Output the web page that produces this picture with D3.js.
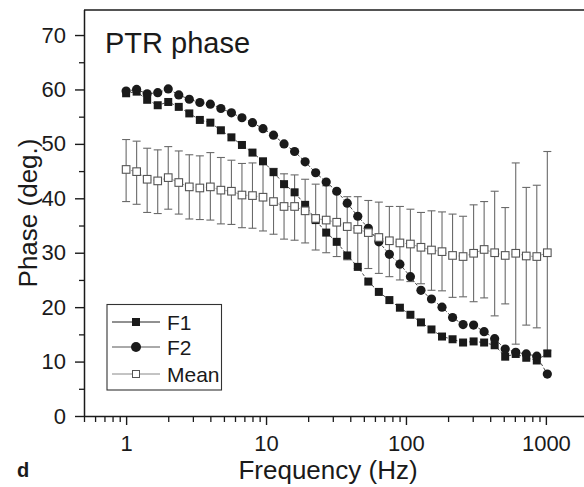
<!DOCTYPE html>
<html>
<head>
<meta charset="utf-8">
<script src="https://cdn.jsdelivr.net/npm/d3@7/dist/d3.min.js"></script>
<style>
  html, body { margin: 0; padding: 0; background: #fff; }
  svg { display: block; font-family: "Liberation Sans", Arial, Helvetica, sans-serif; }
</style>
</head>
<body>
<svg id="chart" width="584" height="487"></svg>
<script>
// Frequencies (Hz), quarter-octave steps
const freqs = [1, 1.189, 1.414, 1.682, 2, 2.378, 2.828, 3.364, 4, 4.757, 5.657, 6.727, 8, 9.514,
  11.31, 13.45, 16, 19.03, 22.63, 26.91, 32, 38.05, 45.25, 53.82, 64, 76.11, 90.51, 107.6,
  128, 152.2, 181.0, 215.3, 256, 304.4, 362.0, 430.5, 512, 608.9, 724.1, 861.1, 1024];

const f1 = [59.3, 59.6, 58.1, 57.1, 57.7, 56.8, 55.6, 54.4, 53.9, 52.5, 51.2, 49.8, 48.4, 46.8,
  44.8, 42.6, 41.1, 38.8, 36.0, 33.7, 32.0, 29.5, 27.4, 24.7, 22.8, 21.3, 19.9, 18.6,
  17.2, 15.9, 14.6, 14.1, 13.5, 13.7, 13.5, 13.0, 10.9, 11.4, 10.7, 10.2, 11.5];

const f2 = [59.7, 60.0, 59.2, 59.4, 60.1, 59.0, 58.2, 57.6, 57.3, 56.5, 55.7, 54.8, 53.9, 52.8,
  51.6, 50.0, 48.6, 46.7, 44.7, 43.0, 41.3, 39.1, 36.7, 34.5, 32.0, 29.7, 27.9, 25.6,
  23.1, 21.5, 20.0, 18.1, 16.8, 16.7, 15.5, 14.2, 12.3, 11.7, 11.4, 11.0, 7.7];

const meanV = [45.3, 44.9, 43.5, 43.2, 43.8, 42.9, 42.1, 41.9, 42.1, 41.5, 41.3, 40.6, 40.5, 40.2,
  39.4, 38.5, 38.5, 37.7, 36.3, 36.0, 35.6, 34.8, 34.3, 33.7, 32.8, 32.2, 31.8, 31.6,
  31.0, 30.5, 30.2, 29.5, 29.3, 29.9, 30.6, 30.0, 29.5, 29.9, 29.4, 29.3, 30.0];

const meanUpper = [50.8, 50.5, 49.2, 48.9, 49.5, 48.7, 48.0, 47.8, 48.4, 47.5, 47.0, 46.4, 46.5, 46.4,
  45.5, 44.5, 44.3, 43.5, 42.6, 42.3, 40.9, 40.3, 40.3, 39.6, 39.3, 38.5, 38.5, 38.0,
  37.4, 37.7, 37.5, 37.1, 36.7, 38.8, 39.4, 41.3, 38.3, 46.5, 42.0, 42.4, 48.6];

const meanLower = [39.4, 38.9, 37.4, 37.2, 38.0, 37.1, 36.2, 36.1, 36.0, 35.3, 35.2, 34.6, 34.5, 34.0,
  33.4, 32.5, 32.3, 31.8, 30.5, 30.0, 29.3, 28.7, 27.1, 27.1, 26.2, 25.6, 25.0, 24.7,
  24.3, 23.1, 23.0, 21.8, 21.9, 21.0, 21.7, 18.4, 20.6, 13.2, 16.7, 16.2, 12.0];

const xTickValues = [1, 10, 100, 1000];
const yTickValues = [0, 10, 20, 30, 40, 50, 60, 70];
const seriesNames = ["F1", "F2", "Mean"];

const svg = d3.select("#chart");
const pLeft = 84, pRight = 588, pTop = 10, pBottom = 416;

const x = d3.scaleLog().domain([0.5, 2000]).range([pLeft, pRight]);
const y = d3.scaleLinear().domain([0, 74.6]).range([pBottom, pTop]);

const ink = "#1a1a1a";

// Top frame line
svg.append("line").attr("x1", pLeft).attr("x2", 584).attr("y1", pTop).attr("y2", pTop)
  .attr("stroke", ink).attr("stroke-width", 1.3);

// X axis minor ticks
const xMinor = [];
[0.1, 1, 10, 100, 1000].forEach(d => { for (let m = 2; m <= 9; m++) { const v = d * m; if (v >= 0.5 && v <= 2000) xMinor.push(v); } });
const xAxisMinor = d3.axisBottom(x).tickValues(xMinor).tickSize(6).tickFormat("");
const gxm = svg.append("g").attr("transform", `translate(0,${pBottom})`).call(xAxisMinor);
gxm.select(".domain").remove();
gxm.selectAll("line").attr("stroke", ink).attr("stroke-width", 1.3);

const xAxis = d3.axisBottom(x).tickValues(xTickValues).tickSize(9).tickPadding(10).tickFormat(d3.format("d"));
const gx = svg.append("g").attr("transform", `translate(0,${pBottom})`).call(xAxis);
gx.select(".domain").attr("d", `M${pLeft},0.5H584`).attr("stroke", ink).attr("stroke-width", 1.5);
gx.selectAll("line").attr("stroke", ink).attr("stroke-width", 1.4);
gx.selectAll("text").attr("font-size", 22).attr("fill", ink).attr("font-family", "Liberation Sans, Arial, sans-serif");

// Y axis
const yMinor = d3.range(5, 75, 10);
const yAxisMinor = d3.axisLeft(y).tickValues(yMinor).tickSize(5).tickFormat("");
const gym = svg.append("g").attr("transform", `translate(${pLeft},0)`).call(yAxisMinor);
gym.select(".domain").remove();
gym.selectAll("line").attr("stroke", ink).attr("stroke-width", 1.3);

const yAxis = d3.axisLeft(y).tickValues(yTickValues).tickSize(9).tickPadding(9);
const gy = svg.append("g").attr("transform", `translate(${pLeft},0)`).call(yAxis);
gy.select(".domain").attr("d", `M0.5,${pTop}V${pBottom}`).attr("stroke", ink).attr("stroke-width", 1.5);
gy.selectAll("line").attr("stroke", ink).attr("stroke-width", 1.4);
gy.selectAll("text").attr("font-size", 22).attr("fill", ink).attr("font-family", "Liberation Sans, Arial, sans-serif");

// Axis titles
svg.append("text").attr("x", 328).attr("y", 479).attr("text-anchor", "middle")
  .attr("font-size", 26).attr("fill", ink).text("Frequency (Hz)");
svg.append("text").attr("transform", `translate(37,${(pTop + pBottom) / 2}) rotate(-90)`)
  .attr("text-anchor", "middle").attr("font-size", 26).attr("fill", ink).text("Phase (deg.)");
svg.append("text").attr("x", 105).attr("y", 53).attr("font-size", 29).attr("fill", ink).text("PTR phase");
svg.append("text").attr("x", 17).attr("y", 477).attr("font-size", 20).attr("font-weight", "bold")
  .attr("fill", ink).text("d");

const data = freqs.map((f, i) => ({ f, f1: f1[i], f2: f2[i], m: meanV[i], hi: meanUpper[i], lo: meanLower[i] }));

// Error bars
const eb = svg.append("g").attr("stroke", "#6a6a6a").attr("stroke-width", 1.1);
data.forEach(d => {
  const cx = x(d.f);
  eb.append("line").attr("x1", cx).attr("x2", cx).attr("y1", y(d.hi)).attr("y2", y(d.lo));
  eb.append("line").attr("x1", cx - 4).attr("x2", cx + 4).attr("y1", y(d.hi)).attr("y2", y(d.hi));
  eb.append("line").attr("x1", cx - 4).attr("x2", cx + 4).attr("y1", y(d.lo)).attr("y2", y(d.lo));
});

// Connecting lines
const lineGen = key => d3.line().x(d => x(d.f)).y(d => y(d[key]));
svg.append("path").datum(data).attr("d", lineGen("m")).attr("fill", "none")
  .attr("stroke", "#8a8a8a").attr("stroke-width", 0.8).attr("stroke-dasharray", "3,2");
svg.append("path").datum(data).attr("d", lineGen("f1")).attr("fill", "none")
  .attr("stroke", "#333").attr("stroke-width", 0.9).attr("stroke-dasharray", "3,2");
svg.append("path").datum(data).attr("d", lineGen("f2")).attr("fill", "none")
  .attr("stroke", "#333").attr("stroke-width", 0.9).attr("stroke-dasharray", "3,2");

// F1 squares
svg.append("g").selectAll("rect").data(data).join("rect")
  .attr("x", d => x(d.f) - 4).attr("y", d => y(d.f1) - 4).attr("width", 8).attr("height", 8)
  .attr("fill", ink);
// F2 circles
svg.append("g").selectAll("circle").data(data).join("circle")
  .attr("cx", d => x(d.f)).attr("cy", d => y(d.f2)).attr("r", 4.6).attr("fill", ink);
// Mean open squares
svg.append("g").selectAll("rect").data(data).join("rect")
  .attr("x", d => x(d.f) - 3.8).attr("y", d => y(d.m) - 3.8).attr("width", 7.6).attr("height", 7.6)
  .attr("fill", "#fff").attr("stroke", "#555").attr("stroke-width", 1.1);

// Legend
const lg = svg.append("g");
lg.append("rect").attr("x", 107).attr("y", 304.5).attr("width", 114.5).attr("height", 85.5)
  .attr("fill", "#fff").attr("stroke", "#333").attr("stroke-width", 1.1);
const legendY = [322, 347, 374];
const legendStroke = ["#222", "#555", "#888"];
seriesNames.forEach((name, i) => {
  const ly = legendY[i];
  lg.append("line").attr("x1", 112).attr("x2", 160).attr("y1", ly).attr("y2", ly)
    .attr("stroke", legendStroke[i]).attr("stroke-width", 1);
  if (i === 0) lg.append("rect").attr("x", 132).attr("y", ly - 4).attr("width", 8).attr("height", 8).attr("fill", ink);
  if (i === 1) lg.append("circle").attr("cx", 136).attr("cy", ly).attr("r", 5).attr("fill", ink);
  if (i === 2) lg.append("rect").attr("x", 132.5).attr("y", ly - 3.5).attr("width", 7).attr("height", 7)
    .attr("fill", "#fff").attr("stroke", "#555").attr("stroke-width", 1);
  lg.append("text").attr("x", 167).attr("y", ly + 7.5).attr("font-size", 21).attr("fill", ink).text(name);
});
</script>
</body>
</html>
